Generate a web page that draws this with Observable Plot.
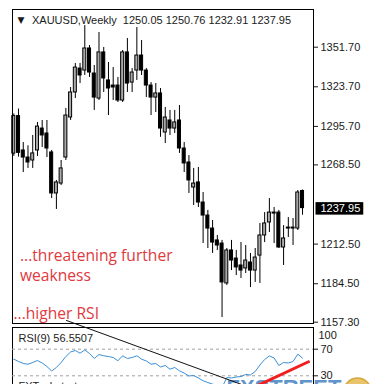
<!DOCTYPE html>
<html><head><meta charset="utf-8">
<script src="https://cdn.jsdelivr.net/npm/d3@7"></script>
<script src="https://cdn.jsdelivr.net/npm/@observablehq/plot@0.6"></script>
<style>
html,body{margin:0;padding:0;background:#fff;overflow:hidden}
#wrap{position:relative;width:376px;height:384px;overflow:hidden;background:#fff}
#main,#rsi{position:absolute;left:0}
#main{top:0}
#rsi{top:323px}
</style></head><body><div id="wrap"><div id="main"></div><div id="rsi"></div></div>
<script>
const symbol = "XAUUSD";
const period = "Weekly";
const opens  = [1276.5,1303.0,1278.7,1273.7,1271.6,1278.7,1294.2,1290.7,1277.3,1248.3,1255.3,1273.7,1302.0,1319.7,1336.6,1335.2,1350.8,1333.1,1315.4,1348.0,1328.2,1324.6,1324.6,1314.0,1348.0,1326.7,1335.2,1345.8,1335.2,1324.6,1316.1,1319.0,1291.4,1299.9,1294.2,1299.9,1280.1,1270.2,1252.5,1256.1,1241.9,1232.7,1223.5,1215.1,1212.9,1184.7,1208.0,1202.3,1197.4,1195.3,1199.5,1193.8,1204.4,1218.6,1227.8,1234.8,1234.8,1210.1,1224.2,1224.2,1223.5,1250.05];
const highs  = [1304.5,1308.0,1284.3,1282.0,1289.3,1298.5,1299.9,1299.9,1278.7,1257.5,1271.6,1308.4,1323.2,1340.2,1340.2,1367.0,1352.9,1338.8,1362.1,1351.5,1340.9,1337.3,1330.3,1349.4,1357.8,1336.6,1365.6,1356.4,1336.6,1326.7,1326.0,1322.5,1309.1,1307.0,1307.0,1310.5,1284.3,1275.1,1266.0,1266.7,1249.0,1236.3,1229.2,1218.6,1215.1,1209.4,1215.1,1208.0,1213.6,1211.5,1205.9,1209.4,1227.1,1234.8,1244.7,1238.4,1236.3,1225.6,1231.3,1230.6,1250.4,1250.76];
const lows   = [1274.5,1274.0,1263.1,1266.0,1266.0,1274.4,1280.8,1273.7,1244.7,1237.0,1253.9,1271.6,1299.9,1315.4,1326.0,1331.7,1330.3,1307.0,1314.0,1319.7,1303.4,1314.0,1312.6,1312.6,1319.7,1319.7,1328.2,1331.7,1316.1,1303.4,1305.5,1288.0,1283.6,1289.3,1290.7,1276.6,1263.1,1248.3,1239.8,1238.4,1212.9,1209.4,1205.9,1208.0,1160.6,1183.3,1193.8,1190.3,1188.2,1191.7,1181.8,1185.4,1184.7,1213.6,1220.7,1212.9,1209.4,1197.4,1217.2,1211.5,1222.1,1232.91];
const closes = [1303.0,1277.0,1273.7,1270.2,1276.6,1295.6,1289.3,1280.1,1248.3,1256.1,1266.0,1303.4,1319.7,1337.3,1331.7,1350.8,1333.8,1316.1,1348.0,1329.6,1322.5,1323.2,1314.0,1348.0,1326.0,1333.8,1345.8,1335.2,1324.6,1316.1,1319.0,1294.2,1302.0,1294.2,1298.5,1280.1,1269.5,1257.5,1255.3,1241.9,1232.7,1223.5,1213.6,1211.5,1185.4,1208.0,1200.9,1196.0,1193.8,1200.9,1193.8,1203.0,1218.6,1227.1,1234.8,1234.1,1210.1,1216.5,1223.5,1223.5,1249.0,1237.95];
const rsiValues = [55.0,51.5,48.5,47.4,50.0,53.0,49.2,44.0,37.2,42.5,50.0,59.0,65.8,68.0,64.0,68.8,63.5,56.0,62.0,60.1,59.0,57.5,52.6,60.1,56.0,57.5,60.1,55.0,52.3,47.4,48.5,43.2,45.5,39.9,42.5,37.5,34.2,29.7,30.5,26.7,22.5,19.9,17.4,16.2,12.4,27.4,26.7,28.2,28.9,32.0,31.2,36.5,46.2,54.5,59.8,56.8,45.5,50.0,49.2,51.5,62.5,56.55];
const rsiPeriod = 9;
const rsiReading = "56.5507";
const priceTicks = [1351.7,1323.7,1295.7,1268.5,1212.5,1184.5,1157.3];
const rsiTicks = [70,30];
const rsiLevels = [70,30];
const rsiTop = [100];
const notes = ["...threatening further","weakness","...higher RSI"];
const blackTrend = [{x:11.63,v:113.2},{x:49.8,v:13.9}];
const redTrend = [{x:49.5,v:7.0},{x:62.76,v:51.1}];
const watermark = "FXTechstrategy.com";
const logoText = "FXSTREET";

const fmt = v => v.toFixed(2);
const candles = opens.map((o,i)=>({i, open:o, high:highs[i], low:lows[i], close:closes[i]}));
const last = candles[candles.length-1];
const title = `${symbol},${period}  ${fmt(last.open)} ${fmt(last.high)} ${fmt(last.low)} ${fmt(last.close)}`;
const xDomain = [0.226, 63.82];
const baseStyle = {fontFamily:"'Liberation Sans', Arial, sans-serif", fontSize:"11px", color:"#1a1a1a", background:"transparent", overflow:"visible"};
const red = "#e0393e";
const noteFont = "'Open Sans', sans-serif";

const main = Plot.plot({
  width:376, height:326,
  marginLeft:12, marginRight:63, marginTop:9, marginBottom:3,
  style: baseStyle,
  color: {type:"identity"},
  x: {domain:xDomain, axis:null},
  y: {domain:[1156.38,1378.35], axis:"right", ticks:priceTicks, tickFormat:fmt, tickSize:4, tickPadding:3, label:null},
  marks: [
    Plot.ruleX(candles, {x:d=>d.i+0.5, y1:"low", y2:"high", stroke:"#000"}),
    Plot.rect(candles, {x1:d=>d.i, x2:d=>d.i+1, y1:"open", y2:"close", insetLeft:0.85, insetRight:0.85,
      fill:d=>d.close>=d.open ? "#a9a9a9" : "#000", stroke:"#000"}),
    Plot.frame({stroke:"#000"}),
    Plot.text([symbol], {text:()=>"▼", frameAnchor:"top-left", dx:5, dy:11, lineAnchor:"middle", textAnchor:"start", fontSize:9, fontFamily:"DejaVu Sans"}),
    Plot.text([title], {text:d=>d, frameAnchor:"top-left", dx:19.5, dy:11, lineAnchor:"middle", textAnchor:"start"}),
    Plot.text([notes[0]], {text:d=>d, frameAnchor:"top-left", dx:7.5, dy:251, lineAnchor:"bottom", textAnchor:"start", fill:red, fontSize:15.6, fontFamily:noteFont}),
    Plot.text([notes[1]], {text:d=>d, frameAnchor:"top-left", dx:7.5, dy:271, lineAnchor:"bottom", textAnchor:"start", fill:red, fontSize:15.6, fontFamily:noteFont}),
    Plot.text([notes[2]], {text:d=>d, frameAnchor:"top-left", dx:1, dy:309, lineAnchor:"bottom", textAnchor:"start", fill:red, fontSize:15.6, fontFamily:noteFont}),
    Plot.text([last.close], {y:d=>d, text:fmt, frameAnchor:"right", dx:7, textAnchor:"start", fill:"#fff"})
  ]
});
document.getElementById("main").appendChild(main);
const label = fmt(last.close);
Array.from(main.querySelectorAll("text")).filter(t => t.textContent === label && t.closest("g") && !t.closest("g").getAttribute("aria-label")?.includes("axis")).forEach(lbl => {
  const bb = lbl.getBBox();
  const r = document.createElementNS("http://www.w3.org/2000/svg","rect");
  r.setAttribute("x", bb.x-5); r.setAttribute("y", bb.y+0.5);
  r.setAttribute("width", bb.width+8); r.setAttribute("height", bb.height+0.5);
  r.setAttribute("fill", "#000");
  r.setAttribute("stroke", "none");
  if (lbl.getAttribute("transform")) r.setAttribute("transform", lbl.getAttribute("transform"));
  lbl.parentNode.insertBefore(r, lbl);
});

const rsiData = rsiValues.map((v,i)=>({x:i+0.5, v}));
const rsiPlot = Plot.plot({
  width:376, height:75,
  marginLeft:12, marginRight:63, marginTop:4, marginBottom:0,
  style: baseStyle,
  x: {domain:xDomain, axis:null},
  y: {domain:[-4.14,102.63], axis:"right", ticks:rsiTicks, tickFormat:d=>String(d), tickSize:4, tickPadding:3, label:null},
  marks: [
    Plot.frame({stroke:"#000"}),
    Plot.ruleY(rsiLevels, {stroke:"#a0a0a0", strokeDasharray:"3,3"}),
    Plot.line(rsiData, {x:"x", y:"v", stroke:"#3b8fd6", strokeWidth:1}),
    Plot.text(rsiTop, {y:d=>d, text:d=>String(d), frameAnchor:"right", dx:5, dy:6, textAnchor:"start"}),
    Plot.text([rsiReading], {text:d=>`RSI(${rsiPeriod}) ${d}`, frameAnchor:"top-left", dx:6, dy:14, lineAnchor:"bottom", textAnchor:"start", fill:"#222"}),
    Plot.text([watermark], {text:d=>d, frameAnchor:"top-left", dx:6, dy:62, lineAnchor:"bottom", textAnchor:"start", fill:"#222"}),
    Plot.text([logoText], {text:d=>d, frameAnchor:"top-left", dx:214, dy:67, lineAnchor:"bottom", textAnchor:"start", fill:"#4a86c5", fontSize:22, fontWeight:"bold", fillOpacity:0.9}),
    Plot.dot([logoText], {frameAnchor:"top-right", dx:44, dy:64, r:13.5, fill:"#e9c46a", stroke:"#d4a93c"}),
    Plot.line(blackTrend, {x:"x", y:"v", stroke:"#111", strokeWidth:1}),
    Plot.line(redTrend, {x:"x", y:"v", stroke:"#f21d1d", strokeWidth:3})
  ]
});
document.getElementById("rsi").appendChild(rsiPlot);
</script></body></html>
